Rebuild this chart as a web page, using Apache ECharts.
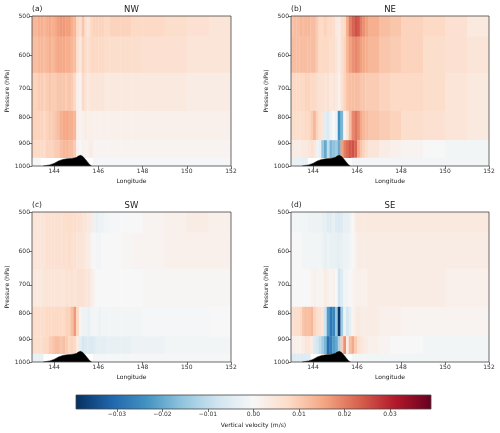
<!DOCTYPE html>
<html>
<head>
<meta charset="utf-8">
<script src="https://cdn.jsdelivr.net/npm/echarts@6/dist/echarts.min.js"></script>
<style>html,body{margin:0;padding:0;background:#fff}#chart{width:500px;height:433px}</style>
</head>
<body>
<div id="chart"></div>
<script>
// longitude cell edges (fine over the ridge, coarse offshore)
const lonEdges = [143, 143.125, 143.25, 143.375, 143.5, 143.625, 143.75, 143.875,
  144, 144.125, 144.25, 144.375, 144.5, 144.625, 144.75, 144.875,
  145, 145.125, 145.25, 145.375, 145.5, 145.625, 145.75, 145.875,
  146, 146.125, 146.25, 146.375, 146.5, 147, 147.5, 148, 149, 150, 151, 152];
const levels = [500, 600, 700, 850, 925, 1000];
const yTicks = [500, 600, 700, 800, 900, 1000];
const xTicks = [144, 146, 148, 150, 152];
const cbTicks = [-0.03, -0.02, -0.01, 0, 0.01, 0.02, 0.03];
const terrainLon = [143.5, 143.8, 144.0, 144.2, 144.4, 144.6, 144.8, 145.0, 145.1, 145.2, 145.3, 145.4, 145.5, 145.6, 145.7];
const terrainP = [1000, 995, 988, 977, 970, 967, 966, 962, 955, 952, 957, 968, 980, 993, 1000];

// vertical velocity, 0.001 m/s; rows = levels, cols = cells between lonEdges
const nwW = [
  [13,13,14,14,13,14,15,14,15,16,17,17,16,16,14,13,8,6,11,6,5,8,9,9,9,9,8,8,9,9,8,8,7,6,5],
  [12,12,13,13,12,13,14,13,14,15,15,15,14,14,13,12,6,4,9,7,6,8,8,8,8,8,7,7,7,7,7,6,6,5,5],
  [9,9,10,10,9,10,11,10,10,11,11,11,10,11,10,8,2,1,8,5,4,5,5,5,5,5,4,4,4,4,4,4,4,3,3],
  [9,9,9,9,8,9,10,10,11,12,14,15,15,14,14,13,2,1,2,3,2,2,2,2,2,2,2,2,2,2,2,2,2,2,2],
  [8,8,8,8,7,9,9,9,10,10,12,13,13,12,12,10,1,0,2,1,2,3,1,1,1,1,1,1,1,1,1,1,1,1,1],
  [-0.5,-0.5,-0.5,null,null,null,null,null,null,null,null,null,null,null,null,null,null,null,null,null,null,null,-0.5,-0.5,-0.5,-0.5,-0.5,-0.5,-0.5,-0.5,-0.5,-0.5,-0.5,-0.5,-0.5]
];
const neW = [
  [11,12,12,13,12,13,13,12,12,10,8,8,9,8,8,7,4,3,7,8,14,20,23,25,24,20,18,16,14,12,11,9,8,6,4],
  [12,12,12,12,12,12,12,12,12,10,8,8,8,8,7,7,5,3,7,9,13,16,18,19,18,16,15,14,13,11,10,9,7,6,5],
  [8,8,8,8,8,9,9,8,8,7,6,6,5,6,4,5,4,2,6,9,11,12,12,12,12,11,11,10,10,9,8,8,7,5,4],
  [7,7,7,7,7,8,8,10,13,9,6,5,-4,-6,-2,0,-2,-24,-18,1,5,12,19,21,19,15,13,12,11,10,9,7,6,5,4],
  [3,3,3,3,4,4,5,6,5,-2,-3,-15,-20,-10,-18,-16,-14,-20,16,20,22,24,25,23,15,11,9,7,5,3,2,1,0,-1,-1],
  [-3,-3,-3,-3,-3,-3,null,null,null,null,null,null,null,null,null,null,null,null,null,null,null,null,-1,-1,-1,-1,-1,-1,-1,-1,-1,-1,-1,-1,-1]
];
const swW = [
  [5,5,5,5,5,6,6,6,6,6,6,7,7,7,7,7,6,6,5,5,4,3,-2,-3,-2,-2,-1,-1,-0.5,0,0,1,2,3,2],
  [5,5,5,5,5,6,6,6,6,6,6,7,6,7,6,6,5,5,5,4,3,1,0,-1,-1,0,0,0,0,0.5,1,1,2,2,2],
  [4,4,4,4,5,5,5,5,5,5,5,5,6,5,6,5,6,6,6,5,5,3,1,0,0,0,0,0,0,0,0,0.5,0.5,0.5,0.5],
  [7,7,7,7,7,8,8,8,8,8,8,8,9,9,12,17,8,1,-2,-2,-3,-1,-1,-1,-2,-1,-1,-1,-1,-1,-1,-0.5,-0.5,-0.5,0],
  [7,7,7,7,8,8,10,11,12,12,11,12,10,8,9,8,3,-4,-7,-6,-5,-6,-5,-4,-4,-4,-4,-3,-3,-3,-2,-2,-1,-1,-1],
  [-3,-3,-3,-3,null,null,null,null,null,null,null,null,null,null,null,null,null,null,null,null,null,null,0.5,-0.5,-0.5,-0.5,-0.5,-0.5,-0.5,-0.5,-0.5,-0.5,-0.5,-0.5,-0.5]
];
const seW = [
  [-1,-1,-1,-1,-1,-1,-2,-2,-2,-2,-2,-3,-3,-5,-5,-3,-5,-6,-5,-3,-3,-2,0,3,4,4,4,4,4,4,4,4,4,4,4],
  [0,0,0,0,-1,-1,-1,-1,-1,-1,-1,-2,-3,-2,-3,-3,-3,-4,-3,-2,-2,-1,0,2,3,3,3,3,3,3,3,3,3,3,3],
  [0,0,0,0,0,0,0,1,2,1,1,1,3,2,1,2,0,-8,-5,-1,-1,0,1,2,2,2,2,2,3,3,3,3,3,2,2],
  [6,7,7,8,11,12,12,13,9,7,6,5,-8,-22,-28,-26,-15,-38,-14,-2,-7,-4,1,3,4,3,3,3,3,2,2,1,1,1,1],
  [2,2,2,2,3,5,5,3,-5,-7,-10,-14,-18,-30,-27,-22,-20,-12,10,18,3,12,15,10,6,5,4,3,2,1,0,0,-1,-1,-1],
  [-5,-5,-5,-5,-5,-5,-5,null,null,null,null,null,null,null,null,null,null,null,null,null,null,null,-1,-1,-1,-1,-1,-1,-1,-1,-1,-1,-1,-1,-1]
];
const panelW = [nwW, neW, swW, seW];
const panelNames = ['NW', 'NE', 'SW', 'SE'];
const panelTags = ['(a)', '(b)', '(c)', '(d)'];
const rdbu = ['#053061','#2166ac','#4393c3','#92c5de','#d1e5f0','#f7f7f7','#fddbc7','#f4a582','#d6604d','#b2182b','#67001f'];
const cbMax = 0.039;

const FONT = 'DejaVu Sans';
const grids = [
  {left: 32, top: 16, width: 199, height: 150},
  {left: 291, top: 16, width: 198, height: 150},
  {left: 32, top: 212, width: 199, height: 150},
  {left: 291, top: 212, width: 198, height: 150},
  {left: 76, top: 395, width: 355, height: 14}
];

// pressure cell edges (midpoints between levels, clipped to the axis)
const pEdges = levels.map((p, i) => i == 0 ? 500 : (levels[i - 1] + p) / 2);
pEdges.push(1000);

function cells(w) {
  let out = [];
  for (let r = 0; r < levels.length; r++) {
    for (let c = 0; c < lonEdges.length - 1; c++) {
      if (w[r][c] == null) continue;
      out.push([lonEdges[c], lonEdges[c + 1], Math.log(pEdges[r]), Math.log(pEdges[r + 1]), w[r][c]]);
    }
  }
  return out;
}

function renderCell(params, api) {
  const a = api.coord([api.value(0), api.value(2)]);
  const b = api.coord([api.value(1), api.value(3)]);
  return {
    type: 'rect',
    shape: {x: a[0], y: a[1], width: b[0] - a[0] + 0.3, height: b[1] - a[1] + 0.3},
    style: {fill: api.visual('color')}
  };
}

const chart = echarts.init(document.getElementById('chart'), null, {renderer: 'canvas'});

let xAxes = [], yAxes = [], series = [], graphics = [];
for (let i = 0; i < 4; i++) {
  xAxes.push({
    gridIndex: i, type: 'value', min: 143, max: 152,
    name: 'Longitude', nameLocation: 'middle', nameGap: 12,
    nameTextStyle: {fontSize: 6, color: '#222', fontFamily: FONT},
    axisLine: {show: false}, splitLine: {show: false},
    axisTick: {customValues: xTicks, length: 3, lineStyle: {color: '#333', width: 0.7}},
    axisLabel: {customValues: xTicks, fontSize: 6, color: '#333', margin: 2, fontFamily: FONT}
  });
  yAxes.push({
    gridIndex: i, type: 'value', inverse: true, min: Math.log(500), max: Math.log(1000),
    name: 'Pressure (hPa)', nameLocation: 'middle', nameGap: 21,
    nameTextStyle: {fontSize: 6, color: '#222', fontFamily: FONT},
    axisLine: {show: false}, splitLine: {show: false},
    axisTick: {customValues: yTicks.map(Math.log), length: 3, lineStyle: {color: '#333', width: 0.7}},
    axisLabel: {customValues: yTicks.map(Math.log), fontSize: 6, color: '#333', margin: 2, fontFamily: FONT,
      formatter: v => String(Math.round(Math.exp(v)))}
  });
  series.push({
    type: 'custom', xAxisIndex: i, yAxisIndex: i, renderItem: renderCell,
    data: cells(panelW[i]), clip: true, z: 2
  });
  const g = grids[i];
  graphics.push({type: 'text', x: g.left + g.width / 2, y: g.top - 6.5,
    style: {text: panelNames[i], align: 'center', verticalAlign: 'middle', fontSize: 8.5, fontFamily: FONT, fill: '#222'}});
  graphics.push({type: 'text', x: g.left, y: g.top - 7,
    style: {text: panelTags[i], align: 'left', verticalAlign: 'middle', fontSize: 7.5, fontFamily: FONT, fill: '#222'}});
}
for (let i = 0; i < 4; i++) {
  series.push({
    type: 'line', xAxisIndex: i, yAxisIndex: i, symbol: 'none', z: 3,
    data: terrainLon.map((x, k) => [x, Math.log(terrainP[k])]),
    lineStyle: {color: '#000', width: 0.5},
    areaStyle: {color: '#000', opacity: 1, origin: 'end'}
  });
}

// colourbar
xAxes.push({
  gridIndex: 4, type: 'value', min: -cbMax, max: cbMax,
  name: 'Vertical velocity (m/s)', nameLocation: 'middle', nameGap: 13,
  nameTextStyle: {fontSize: 6, color: '#222', fontFamily: FONT},
  axisLine: {show: false}, splitLine: {show: false},
  axisTick: {customValues: cbTicks, length: 3, lineStyle: {color: '#333', width: 0.7}},
  axisLabel: {customValues: cbTicks, fontSize: 6, color: '#333', margin: 2, fontFamily: FONT,
    formatter: v => (v < -1e-9 ? '\u2212' : '') + Math.abs(v).toFixed(2)}
});
yAxes.push({gridIndex: 4, type: 'value', min: 0, max: 1, show: false});
series.push({
  type: 'custom', xAxisIndex: 4, yAxisIndex: 4, data: [[-cbMax, cbMax]],
  renderItem: function (params, api) {
    const a = api.coord([api.value(0), 1]);
    const b = api.coord([api.value(1), 0]);
    return {
      type: 'rect', shape: {x: a[0], y: a[1], width: b[0] - a[0], height: b[1] - a[1]},
      style: {fill: new echarts.graphic.LinearGradient(0, 0, 1, 0,
        rdbu.map((c, k) => ({offset: k / (rdbu.length - 1), color: c})))}
    };
  }
});

chart.setOption({
  animation: false,
  backgroundColor: '#fff',
  textStyle: {fontFamily: FONT},
  grid: grids.map(g => Object.assign({show: true, z: 10, borderColor: '#444', borderWidth: 0.8, backgroundColor: 'transparent'}, g)),
  xAxis: xAxes,
  yAxis: yAxes,
  visualMap: {type: 'continuous', show: false, min: -cbMax * 1000, max: cbMax * 1000, dimension: 4,
    seriesIndex: [0, 1, 2, 3], inRange: {color: rdbu}},
  graphic: graphics,
  series: series
});
</script>
</body>
</html>
